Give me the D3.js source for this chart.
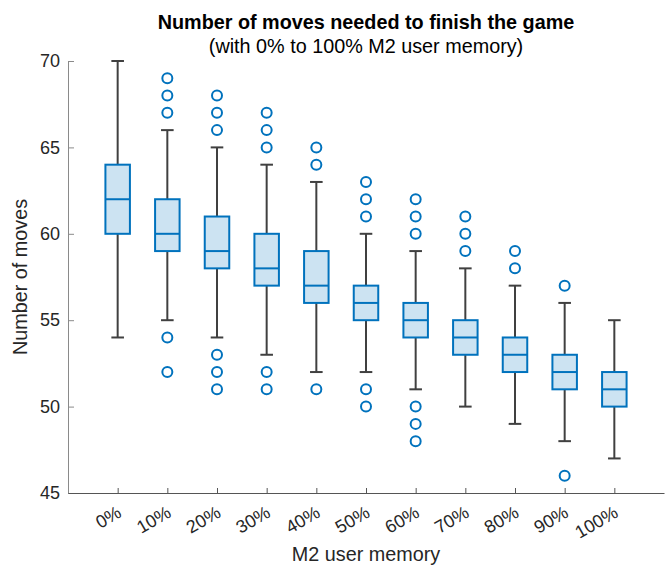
<!DOCTYPE html>
<html>
<head>
<meta charset="utf-8">
<script src="https://cdn.jsdelivr.net/npm/d3@7"></script>
<style>
  html, body { margin: 0; padding: 0; background: #fff; }
  svg { display: block; font-family: "Liberation Sans", Arial, Helvetica, sans-serif; }
</style>
</head>
<body>
<svg id="chart" width="670" height="575"></svg>
<script>
// Categories: share of M2 user memory
const categories = ["0%", "10%", "20%", "30%", "40%", "50%", "60%", "70%", "80%", "90%", "100%"];
// Box statistics per category (number of moves)
const whiskerLow  = [54, 55, 54, 53, 52, 52, 51, 50, 49, 48, 47];
const q1          = [60, 59, 58, 57, 56, 55, 54, 53, 52, 51, 50];
const medians     = [62, 60, 59, 58, 57, 56, 55, 54, 53, 52, 51];
const q3          = [64, 62, 61, 60, 59, 57, 56, 55, 54, 53, 52];
const whiskerHigh = [70, 66, 65, 64, 63, 60, 59, 58, 57, 56, 55];
// Outliers per category
const outliers = [
  [],
  [67, 68, 69, 54, 52],
  [66, 67, 68, 53, 52, 51],
  [65, 66, 67, 52, 51],
  [64, 65, 51],
  [61, 62, 63, 51, 50],
  [60, 61, 62, 50, 49, 48],
  [59, 60, 61],
  [58, 59],
  [57, 46],
  []
];
const yTicks = [45, 50, 55, 60, 65, 70];

const svg = d3.select("#chart");
const plotLeft = 68, plotRight = 664, plotTop = 61, plotBottom = 493;
const textColor = "#262626";
const blue = "#0072BD";
const whiskerColor = "#404040";

const x = d3.scaleLinear().domain([0, categories.length + 1]).range([plotLeft, plotRight]);
const y = d3.scaleLinear().domain([45, 70]).range([plotBottom, plotTop]);

const boxW = 24.5, capW = 12.6, lw = 2;

// Axes
const yAxis = d3.axisLeft(y).tickValues(yTicks).tickSizeInner(-6).tickSizeOuter(0).tickPadding(8);
const gy = svg.append("g").attr("transform", `translate(${plotLeft},0)`).call(yAxis);
gy.select(".domain").attr("stroke", "#8a8a8a");
gy.selectAll(".tick line").attr("stroke", "#8a8a8a");
gy.selectAll(".tick text").attr("fill", textColor).style("font-size", "18px").attr("font-family", null);

const xAxis = d3.axisBottom(x).tickValues(categories.map((d, i) => i + 1))
  .tickSizeInner(-5).tickSizeOuter(0).tickFormat(() => "");
const gx = svg.append("g").attr("transform", `translate(0,${plotBottom})`).call(xAxis);
gx.select(".domain").attr("stroke", "#555");
gx.selectAll(".tick line").attr("stroke", "#555");

// Rotated category labels
svg.append("g").selectAll("text").data(categories).join("text")
  .attr("transform", (d, i) => `translate(${x(i + 1) + 5},${plotBottom + 23}) rotate(-30)`)
  .attr("text-anchor", "end")
  .attr("fill", textColor)
  .style("font-size", "18px")
  .text(d => d);

// Boxes, whiskers, medians and outliers
const g = svg.append("g");
categories.forEach((c, i) => {
  const cx = x(i + 1);
  const whisker = (y1, y2) => g.append("line").attr("x1", cx).attr("x2", cx)
    .attr("y1", y(y1)).attr("y2", y(y2)).attr("stroke", whiskerColor).attr("stroke-width", lw);
  const cap = v => g.append("line").attr("x1", cx - capW / 2).attr("x2", cx + capW / 2)
    .attr("y1", y(v)).attr("y2", y(v)).attr("stroke", whiskerColor).attr("stroke-width", lw);
  whisker(q3[i], whiskerHigh[i]);
  whisker(q1[i], whiskerLow[i]);
  cap(whiskerHigh[i]);
  cap(whiskerLow[i]);
  g.append("rect").attr("x", cx - boxW / 2).attr("width", boxW)
    .attr("y", y(q3[i])).attr("height", y(q1[i]) - y(q3[i]))
    .attr("fill", "#CCE3F2").attr("stroke", blue).attr("stroke-width", lw);
  g.append("line").attr("x1", cx - boxW / 2).attr("x2", cx + boxW / 2)
    .attr("y1", y(medians[i])).attr("y2", y(medians[i]))
    .attr("stroke", blue).attr("stroke-width", lw);
  g.selectAll(null).data(outliers[i]).join("circle")
    .attr("cx", cx).attr("cy", d => y(d)).attr("r", 5)
    .attr("fill", "none").attr("stroke", blue).attr("stroke-width", lw);
});

// Titles
const midX = (plotLeft + plotRight) / 2;
svg.append("text").attr("x", midX).attr("y", 29).attr("text-anchor", "middle")
  .style("font-size", "19.8px").style("font-weight", "bold").attr("fill", "#000")
  .text("Number of moves needed to finish the game");
svg.append("text").attr("x", midX).attr("y", 53).attr("text-anchor", "middle")
  .style("font-size", "19.8px").attr("fill", "#000")
  .text("(with 0% to 100% M2 user memory)");

// Axis labels
svg.append("text").attr("x", midX).attr("y", 561).attr("text-anchor", "middle")
  .style("font-size", "19.8px").attr("fill", textColor).text("M2 user memory");
svg.append("text").attr("transform", `translate(27,${(plotTop + plotBottom) / 2}) rotate(-90)`)
  .attr("text-anchor", "middle").style("font-size", "19.8px").attr("fill", textColor)
  .text("Number of moves");
</script>
</body>
</html>
